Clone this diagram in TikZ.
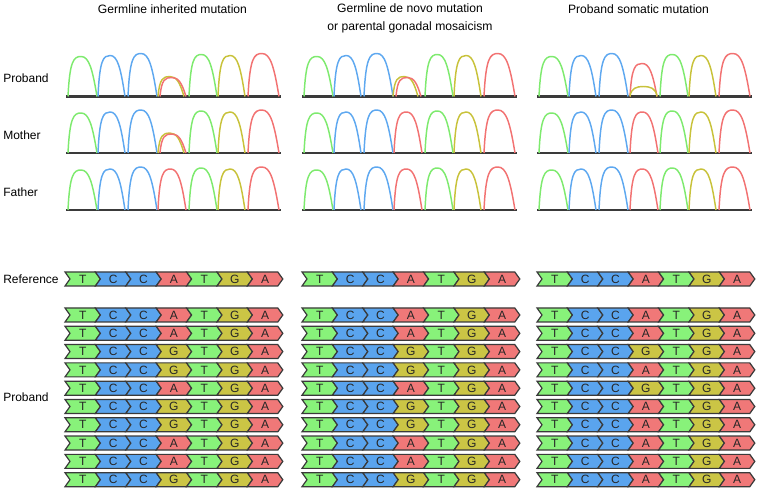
\documentclass[tikz,border=0pt]{standalone}
\usepackage{fontspec}
\setmainfont{Liberation Sans}

\definecolor{colA}{RGB}{240,120,120}
\definecolor{colC}{RGB}{90,164,238}
\definecolor{colG}{RGB}{203,197,69}
\definecolor{colT}{RGB}{136,242,122}
\definecolor{trA}{RGB}{242,114,114}
\definecolor{trC}{RGB}{94,168,240}
\definecolor{trG}{RGB}{200,194,58}
\definecolor{trT}{RGB}{126,234,110}
\definecolor{edge}{RGB}{58,58,58}

\tikzset{
	peakline/.style={line width=1.1pt, line join=round},
	baseline/.style={draw=edge, line width=1.6pt},
	segline/.style={draw=edge, line width=0.9pt, line join=miter},
	baselabel/.style={inner sep=0pt, text=black!85, font=\fontsize{9}{10}\selectfont},
	rowlabel/.style={anchor=west, inner sep=0.75pt, font=\fontsize{9}{11}\selectfont},
	title/.style={inner sep=0.75pt, align=center, font=\fontsize{9.1}{13.5}\selectfont}
}

% one peak: x, baseline, width, height, colour
\newcommand{\peak}[5]{%
	\draw[peakline, draw=#5] (#1,#2) .. controls ({#1+0.06*#3},{#2-0.9*#4}) and ({#1+0.2*#3},{#2-#4}) .. ({#1+0.45*#3},{#2-#4}) .. controls ({#1+0.72*#3},{#2-#4}) and ({#1+0.84*#3},{#2-0.7*#4}) .. ({#1+#3},#2);}

% the six unchanged peaks and the axis: x, baseline
\newcommand{\trace}[2]{%
	\draw[baseline] (#1,#2) -- ({#1+215},#2);
	\peak{#1+2}{#2}{29}{40}{trT}
	\peak{#1+32}{#2}{27}{41}{trC}
	\peak{#1+62}{#2}{29}{43}{trC}
	\peak{#1+123}{#2}{28}{42}{trT}
	\peak{#1+152}{#2}{27}{41}{trG}
	\peak{#1+182}{#2}{31}{43}{trA}}

% one base of a read: x, y, letter
\newcommand{\nuc}[3]{%
	\draw[segline, fill=col#3] (#1,{#2-7}) -- ++(30.4,0) -- ++(5,7) -- ++(-5,7) -- ++(-30.4,0) -- ++(5,-7) -- cycle;
	\node[baselabel] at ({#1+17.7},#2) {#3};}

% one read: x, y, bases
\newcommand{\seqread}[3]{%
	\foreach \b [count=\i from 0] in {#3} {\nuc{#1+\i*30.4}{#2}{\b}}}

\begin{document}
\begin{tikzpicture}[x=0.75pt,y=0.75pt,yscale=-1,xscale=1]
	\useasboundingbox (0,0) rectangle (758,491);
	
	% Text Node
	\node[title] (tinh) at (172.5,9.5) {Germline inherited mutation};
	% Text Node
	\node[title] (tdenovo) at (410,18) {Germline de novo mutation\\or parental gonadal mosaicism};
	% Text Node
	\node[title] (tsom) at (638.5,9.5) {Proband somatic mutation};
	
	% Text Node
	\node[rowlabel] (lprob) at (2,78) {Proband};
	% Text Node
	\node[rowlabel] (lmoth) at (2,135) {Mother};
	% Text Node
	\node[rowlabel] (lfath) at (2,192) {Father};
	% Text Node
	\node[rowlabel] (lref) at (2,279) {Reference};
	% Text Node
	\node[rowlabel] (lreads) at (2,397) {Proband};
	
	%Traces, germline inherited
	\trace{66}{96.5}
	\peak{158}{96.5}{26}{20}{trG}
	\peak{160}{96.5}{26}{19}{trA}
	\trace{66}{153}
	\peak{158}{153}{26}{20}{trG}
	\peak{160}{153}{26}{19}{trA}
	\trace{66}{210}
	\peak{158}{210}{28}{41}{trA}
	
	%Traces, de novo
	\trace{302}{96.5}
	\peak{393}{96.5}{25}{20}{trG}
	\peak{396}{96.5}{25}{19}{trA}
	\trace{302}{153}
	\peak{394}{153}{28}{41}{trA}
	\trace{302}{210}
	\peak{394}{210}{28}{41}{trA}
	
	%Traces, somatic
	\trace{537}{96.5}
	\peak{630}{96.5}{27}{33}{trA}
	\draw[peakline, draw=trG] (630,96.5) .. controls (631,88) and (637,86.5) .. (643,86.5) .. controls (650,86.5) and (656,88) .. (657,96.5);
	\trace{537}{153}
	\peak{630}{153}{28}{41}{trA}
	\trace{537}{210}
	\peak{630}{210}{28}{41}{trA}
	
	%Reference reads
	\seqread{65}{279}{T,C,C,A,T,G,A}
	\seqread{302}{279}{T,C,C,A,T,G,A}
	\seqread{537}{279}{T,C,C,A,T,G,A}
	
	%Proband reads
	\foreach \m [count=\r from 0] in {A,A,G,G,A,G,G,A,A,G} {
		\seqread{65}{315+\r*18.3}{T,C,C,\m,T,G,A}
		\seqread{302}{315+\r*18.3}{T,C,C,\m,T,G,A}
	}
	\foreach \m [count=\r from 0] in {A,A,G,A,G,A,A,A,A,A} {
		\seqread{537}{315+\r*18.3}{T,C,C,\m,T,G,A}
	}
	
\end{tikzpicture}
\end{document}
